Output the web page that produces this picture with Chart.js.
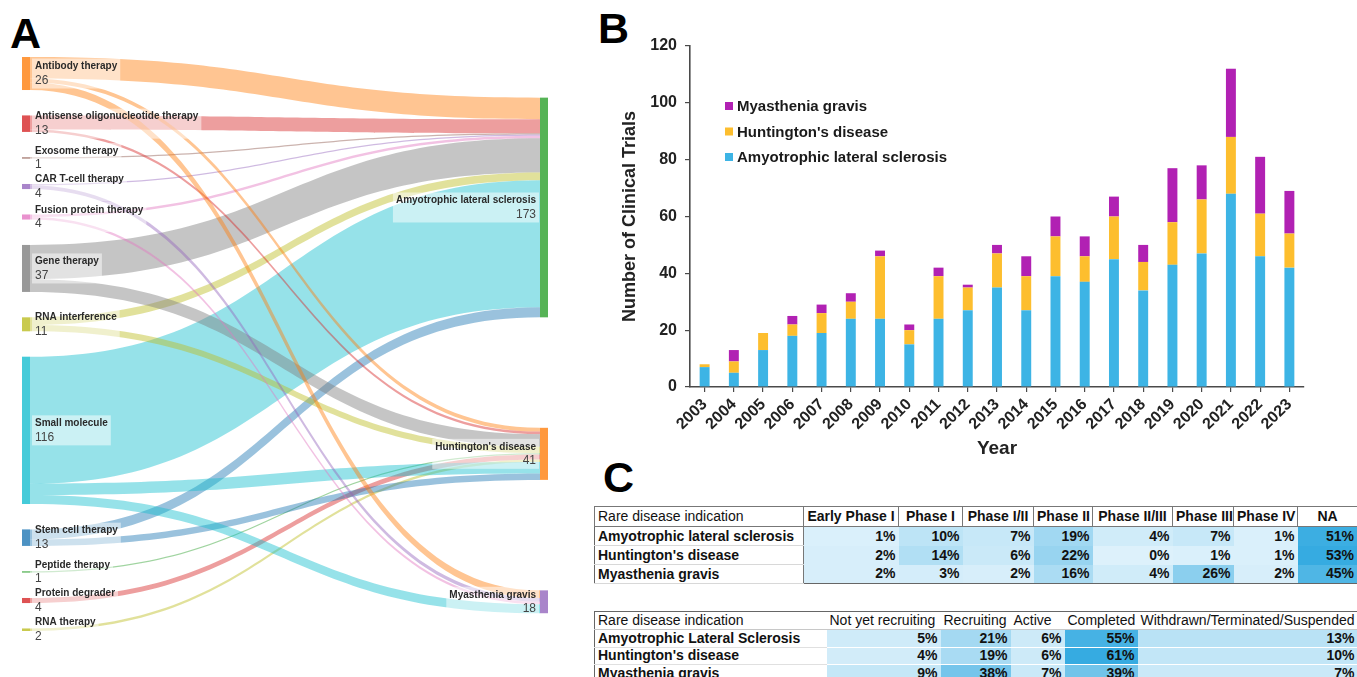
<!DOCTYPE html>
<html>
<head>
<meta charset="utf-8">
<title>Rare neurological disease clinical trials</title>
<script src="https://cdn.jsdelivr.net/npm/chart.js@4.4.1/dist/chart.umd.min.js"></script>
<style>
  html, body { margin: 0; padding: 0; background: #fff; width: 1357px; height: 677px; overflow: hidden;
    font-family: "Liberation Sans", Arial, Helvetica, sans-serif; }
  .letter { position: absolute; font-weight: bold; font-size: 43px; line-height: 1; color: #000; }
  #sankeyBox { position: absolute; left: 0; top: 0; width: 590px; height: 677px; }
  #barBox { position: absolute; left: 590px; top: 0; width: 767px; height: 470px; }
  table.grid { position: absolute; border-collapse: collapse; table-layout: fixed; font-size: 14px; color: #111; }
  table.grid td, table.grid th { padding: 0 3px; white-space: nowrap; overflow: hidden; line-height: 15px; }
  #phaseTable { left: 594px; top: 506px; width: 763px; border: 1.5px solid #666; }
  #phaseTable tr.head { height: 20px; }
  #phaseTable tr.row { height: 19px; }
  #phaseTable th { border: 1px solid #777; font-weight: bold; text-align: center; background: #fff; }
  #phaseTable th.lbl { text-align: left; font-weight: normal; }
  #phaseTable td.lbl { font-weight: bold; text-align: left; border-right: 1px solid #777; border-bottom: 1px solid #d8d8d8; background: #fff; }
  #phaseTable td.val { font-weight: bold; text-align: right; }
  #statusTable { left: 594px; top: 611px; width: 763px; border-top: 1px solid #666; border-left: 1px solid #666; }
  #statusTable tr.head { height: 18px; }
  #statusTable tr.row { height: 17.5px; }
  #statusTable th { font-weight: normal; text-align: left; border-bottom: 1px solid #c8c8c8; background: #fff; }
  #statusTable td.lbl { font-weight: bold; text-align: left; border-bottom: 1px solid #e0e0e0; background: #fff; }
  #statusTable td.val { font-weight: bold; text-align: right; border-bottom: 1px solid rgba(255,255,255,0.5); }
</style>
</head>
<body>
<div class="letter" style="left:10px; top:12px;">A</div>
<div class="letter" style="left:598px; top:7px;">B</div>
<div class="letter" style="left:603px; top:456px;">C</div>

<div id="sankeyBox"><canvas id="sankey" width="590" height="677"></canvas></div>
<div id="barBox"><canvas id="bars" width="767" height="470"></canvas></div>

<table id="phaseTable" class="grid"></table>
<table id="statusTable" class="grid"></table>

<script>
// ---------- Panel A: therapy modality -> indication flows ----------
const modalities = ['Antibody therapy', 'Antisense oligonucleotide therapy', 'Exosome therapy', 'CAR T-cell therapy',
  'Fusion protein therapy', 'Gene therapy', 'RNA interference', 'Small molecule', 'Stem cell therapy',
  'Peptide therapy', 'Protein degrader', 'RNA therapy'];
const indications = ['Amyotrophic lateral sclerosis', "Huntington's disease", 'Myasthenia gravis'];

// one entry per flow: modality index, indication index, number of trials
const flowFrom  = [0, 1, 2, 3, 4, 5, 6, 7, 8,   0, 1, 5, 6, 9, 10, 11, 7, 8,   0, 3, 4, 7];
const flowTo    = [0, 0, 0, 0, 0, 0, 0, 0, 0,   1, 1, 1, 1, 1, 1, 1, 1, 1,     2, 2, 2, 2];
const flowCount = [17, 11, 1, 1, 2, 27, 6, 100, 8,   3, 2, 10, 5, 1, 4, 2, 9, 5,   6, 3, 2, 7];

// ---------- Panel B: trials per year ----------
const years = ['2003', '2004', '2005', '2006', '2007', '2008', '2009', '2010', '2011', '2012', '2013',
  '2014', '2015', '2016', '2017', '2018', '2019', '2020', '2021', '2022', '2023'];
const alsTrials = [7, 5, 13, 18, 19, 24, 24, 15, 24, 27, 35, 27, 39, 37, 45, 34, 43, 47, 68, 46, 42];
const hdTrials  = [1, 4, 6, 4, 7, 6, 22, 5, 15, 8, 12, 12, 14, 9, 15, 10, 15, 19, 20, 15, 12];
const mgTrials  = [0, 4, 0, 3, 3, 3, 2, 2, 3, 1, 3, 7, 7, 7, 7, 6, 19, 12, 24, 20, 15];
const yTicks = [0, 20, 40, 60, 80, 100, 120];

// ---------- Panel C: trial phase and status shares ----------
const phaseHeaders = ['Early Phase I', 'Phase I', 'Phase I/II', 'Phase II', 'Phase II/III', 'Phase III', 'Phase IV', 'NA'];
const phaseRows = ['Amyotrophic lateral sclerosis', "Huntington's disease", 'Myasthenia gravis'];
const phaseALS = [1, 10, 7, 19, 4, 7, 1, 51];
const phaseHD  = [2, 14, 6, 22, 0, 1, 1, 53];
const phaseMG  = [2, 3, 2, 16, 4, 26, 2, 45];

const statusHeaders = ['Not yet recruiting', 'Recruiting', 'Active', 'Completed', 'Withdrawn/Terminated/Suspended'];
const statusRows = ['Amyotrophic Lateral Sclerosis', "Huntington's disease", 'Myasthenia gravis'];
const statusALS = [5, 21, 6, 55, 13];
const statusHD  = [4, 19, 6, 61, 10];
const statusMG  = [9, 38, 7, 39, 7];

// ---------- styling ----------
const FONT = '"Liberation Sans", Arial, Helvetica, sans-serif';
const modalityPalette = ['#ff7f0e', '#d62728', '#8c564b', '#9467bd', '#e377c2', '#7f7f7f',
  '#bcbd22', '#17becf', '#1f77b4', '#2ca02c', '#d62728', '#bcbd22'];
const indicationPalette = ['#2ca02c', '#ff7f0e', '#9467bd'];
const barColors = { als: '#3db4e5', hd: '#fdbe2e', mg: '#b121b3' };

function rgba(hex, a) {
  const n = parseInt(hex.slice(1), 16);
  return `rgba(${(n >> 16) & 255},${(n >> 8) & 255},${n & 255},${a})`;
}

// Sankey layout constants (in trial units on the vertical scale)
const LEFT_GAP = 20, RIGHT_START = 32, RIGHT_GAP = 87, NODE_W = 8;

const sankeyPlugin = {
  id: 'sankeyFlows',
  afterDatasetsDraw(chart) {
    const { ctx, scales: { x, y } } = chart;
    const srcTot = modalities.map((_, i) => flowCount.reduce((s, v, k) => s + (flowFrom[k] === i ? v : 0), 0));
    const tgtTot = indications.map((_, i) => flowCount.reduce((s, v, k) => s + (flowTo[k] === i ? v : 0), 0));

    const srcTop = [], tgtTop = [];
    let acc = 0;
    srcTot.forEach((v, i) => { srcTop[i] = acc; acc += v + LEFT_GAP; });
    acc = RIGHT_START;
    tgtTot.forEach((v, i) => { tgtTop[i] = acc; acc += v + RIGHT_GAP; });

    // stack flows on each side of a node
    const srcOff = srcTop.slice(), tgtOff = tgtTop.slice();
    const fy0 = [], ty0 = [];
    const order = flowCount.map((_, k) => k).sort((a, b) => flowTo[a] - flowTo[b] || a - b);
    order.forEach(k => { fy0[k] = srcOff[flowFrom[k]]; srcOff[flowFrom[k]] += flowCount[k]; });
    flowCount.forEach((v, k) => { ty0[k] = tgtOff[flowTo[k]]; tgtOff[flowTo[k]] += v; });

    const xL = x.getPixelForValue(0), xR = x.getPixelForValue(1);
    const x0 = xL + NODE_W, x1 = xR - NODE_W, xm = (x0 + x1) / 2;

    ctx.save();
    // flows
    flowCount.forEach((v, k) => {
      const s0 = y.getPixelForValue(fy0[k]), s1 = y.getPixelForValue(fy0[k] + v);
      const t0 = y.getPixelForValue(ty0[k]), t1 = y.getPixelForValue(ty0[k] + v);
      ctx.beginPath();
      ctx.moveTo(x0, s0);
      ctx.bezierCurveTo(xm, s0, xm, t0, x1, t0);
      ctx.lineTo(x1, t1);
      ctx.bezierCurveTo(xm, t1, xm, s1, x0, s1);
      ctx.closePath();
      ctx.fillStyle = rgba(modalityPalette[flowFrom[k]], 0.45);
      ctx.fill();
    });

    // nodes
    modalities.forEach((_, i) => {
      const a = y.getPixelForValue(srcTop[i]), b = y.getPixelForValue(srcTop[i] + srcTot[i]);
      ctx.fillStyle = rgba(modalityPalette[i], 0.8);
      ctx.fillRect(xL, a, NODE_W, Math.max(b - a, 1));
    });
    indications.forEach((_, i) => {
      const a = y.getPixelForValue(tgtTop[i]), b = y.getPixelForValue(tgtTop[i] + tgtTot[i]);
      ctx.fillStyle = rgba(indicationPalette[i], 0.8);
      ctx.fillRect(xR - NODE_W, a, NODE_W, b - a);
    });

    // labels
    const nameFont = `bold 10px ${FONT}`, valFont = `12px ${FONT}`;
    function label(name, value, cy, xText, alignRight) {
      ctx.font = nameFont;
      const w1 = ctx.measureText(name).width;
      ctx.font = valFont;
      const w2 = ctx.measureText(String(value)).width;
      const w = Math.max(w1, w2) + 6;
      const bx = alignRight ? xText - w + 3 : xText - 3;
      ctx.fillStyle = 'rgba(255,255,255,0.5)';
      ctx.fillRect(bx, cy - 15, w, 30);
      ctx.textAlign = alignRight ? 'right' : 'left';
      ctx.textBaseline = 'middle';
      ctx.font = nameFont; ctx.fillStyle = '#2a2a2a';
      ctx.fillText(name, xText, cy - 7);
      ctx.font = valFont; ctx.fillStyle = '#444';
      ctx.fillText(String(value), xText, cy + 7);
    }
    modalities.forEach((name, i) => {
      const cy = y.getPixelForValue(srcTop[i] + srcTot[i] / 2);
      label(name, srcTot[i], cy, xL + NODE_W + 5, false);
    });
    indications.forEach((name, i) => {
      const cy = y.getPixelForValue(tgtTop[i] + tgtTot[i] / 2);
      label(name, tgtTot[i], cy, xR - NODE_W - 4, true);
    });
    ctx.restore();
  }
};

new Chart(document.getElementById('sankey'), {
  type: 'scatter',
  data: { datasets: [] },
  options: {
    responsive: false, animation: false,
    layout: { padding: { left: 22, right: 42, top: 57, bottom: 46 } },
    scales: {
      x: { type: 'linear', min: 0, max: 1, display: false },
      y: { type: 'linear', min: 0,
           max: flowCount.reduce((s, v) => s + v, 0) + (modalities.length - 1) * LEFT_GAP,
           reverse: true, display: false }
    },
    plugins: { legend: { display: false }, tooltip: { enabled: false } }
  },
  plugins: [sankeyPlugin]
});

// ---------- Panel B chart ----------
const insideLegend = {
  id: 'insideLegend',
  afterDraw(chart) {
    const { ctx, chartArea } = chart;
    const items = chart.data.datasets.slice().reverse();
    ctx.save();
    ctx.font = `bold 15px ${FONT}`;
    ctx.textBaseline = 'middle';
    ctx.textAlign = 'left';
    items.forEach((ds, i) => {
      const cy = chartArea.top + 60 + i * 25.5;
      ctx.fillStyle = ds.backgroundColor;
      ctx.fillRect(chartArea.left + 35, cy - 4, 8, 8);
      ctx.fillStyle = '#1a1a1a';
      ctx.fillText(ds.label, chartArea.left + 47, cy + 1);
    });
    ctx.restore();
  }
};

const axisColor = '#4a4a4a';
new Chart(document.getElementById('bars'), {
  type: 'bar',
  data: {
    labels: years,
    datasets: [
      { label: 'Amyotrophic lateral sclerosis', data: alsTrials, backgroundColor: barColors.als },
      { label: "Huntington's disease", data: hdTrials, backgroundColor: barColors.hd },
      { label: 'Myasthenia gravis', data: mgTrials, backgroundColor: barColors.mg }
    ]
  },
  options: {
    responsive: false, animation: false,
    datasets: { bar: { barPercentage: 0.34, categoryPercentage: 1.0 } },
    layout: { padding: { left: 0, right: 53, top: 46, bottom: 0 } },
    plugins: { legend: { display: false }, tooltip: { enabled: false } },
    scales: {
      x: {
        stacked: true,
        grid: { display: true, drawOnChartArea: false, drawTicks: true, tickLength: 5, color: axisColor, offset: false, lineWidth: 1.2 },
        border: { display: true, color: axisColor, width: 1.6 },
        ticks: { color: '#222', font: { family: FONT, size: 16, weight: 'bold' }, maxRotation: 45, minRotation: 45, padding: 3, autoSkip: false },
        title: { display: true, text: 'Year', color: '#222', font: { family: FONT, size: 19, weight: 'bold' }, padding: { top: 0, bottom: 10 } },
        afterFit(scale) { scale.height = 83; }
      },
      y: {
        stacked: true, min: 0, max: 120,
        afterBuildTicks(scale) { scale.ticks = yTicks.map(v => ({ value: v })); },
        grid: { display: true, drawOnChartArea: false, drawTicks: true, tickLength: 5, color: axisColor, lineWidth: 1.2 },
        border: { display: true, color: axisColor, width: 1.6 },
        ticks: { color: '#222', font: { family: FONT, size: 16, weight: 'bold' }, padding: 8 },
        title: { display: true, text: 'Number of Clinical Trials', color: '#222', font: { family: FONT, size: 18, weight: 'bold' }, padding: { top: 29, bottom: 0 } },
        afterFit(scale) { scale.width = 100; }
      }
    }
  },
  plugins: [insideLegend]
});

// ---------- Panel C tables ----------
function heat(v, max) {
  const t = Math.max(0, Math.min(1, v / max));
  const c0 = [221, 241, 251], c1 = [54, 171, 225];
  const c = c0.map((a, i) => Math.round(a + (c1[i] - a) * t));
  return `rgb(${c[0]},${c[1]},${c[2]})`;
}

function buildTable(el, headers, rowNames, rows, widths) {
  const max = Math.max(...rows.flat());
  let html = '<colgroup>' + widths.map(w => `<col style="width:${w}px">`).join('') + '</colgroup>';
  html += '<tr class="head"><th class="lbl">Rare disease indication</th>' + headers.map(h => `<th>${h}</th>`).join('') + '</tr>';
  rows.forEach((r, i) => {
    html += `<tr class="row"><td class="lbl">${rowNames[i]}</td>` +
      r.map(v => `<td class="val" style="background:${heat(v, max)}">${v}%</td>`).join('') + '</tr>';
  });
  el.innerHTML = html;
}

buildTable(document.getElementById('phaseTable'), phaseHeaders, phaseRows,
  [phaseALS, phaseHD, phaseMG], [209, 95, 64, 71, 59, 80, 61, 64, 60]);
buildTable(document.getElementById('statusTable'), statusHeaders, statusRows,
  [statusALS, statusHD, statusMG], [232, 114, 70, 54, 73, 220]);
</script>
</body>
</html>
